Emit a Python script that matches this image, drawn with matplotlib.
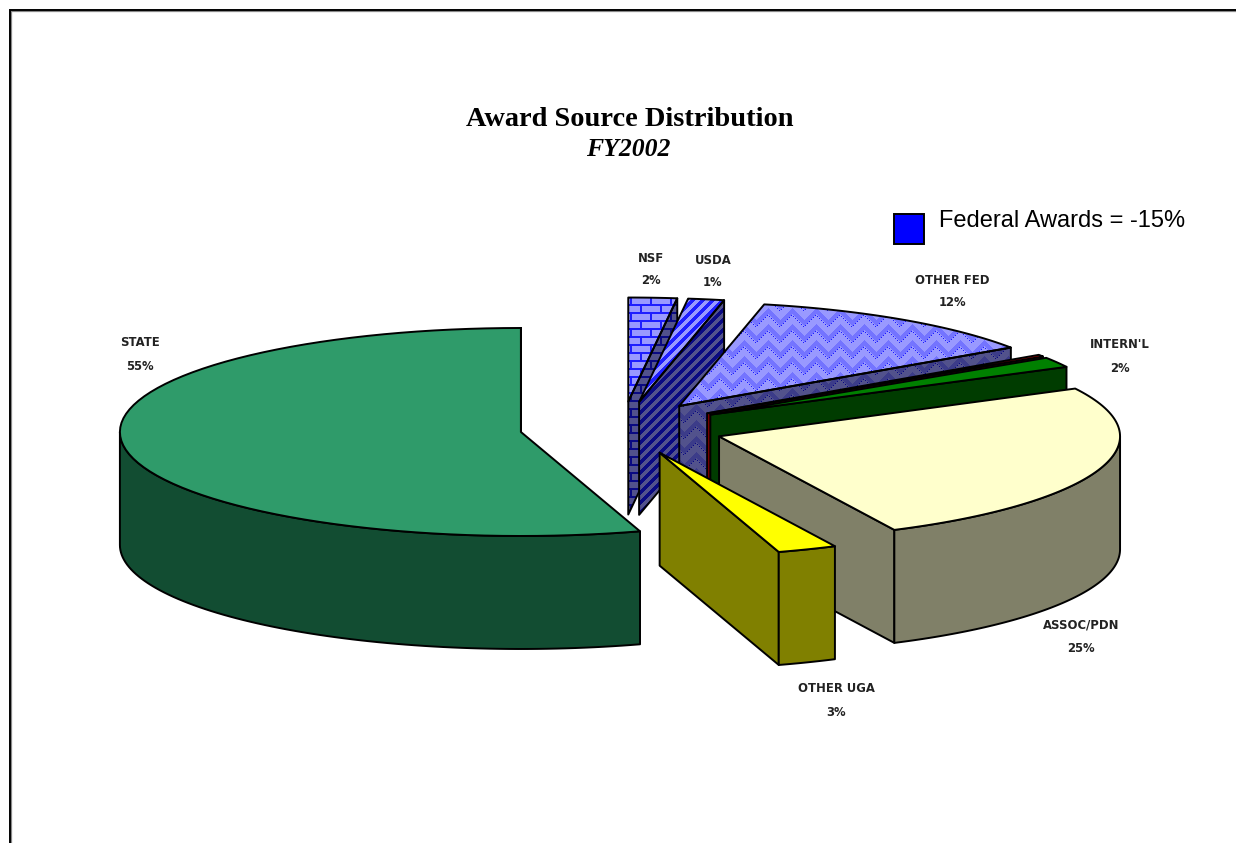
import numpy as np
import matplotlib
matplotlib.use("Agg")
import matplotlib.pyplot as plt
from matplotlib.patches import Polygon, Rectangle

# slices, counterclockwise from 12 o'clock
categories = ["STATE", "OTHER UGA", "ASSOC/PDN", "INTERN'L", "OTHER", "OTHER FED", "USDA", "NSF"]
shares = [54.8, 2.4, 25.4, 1.6, 0.3, 12.1, 1.45, 1.95]
pct_labels = ["55%", "3%", "25%", "2%", "", "12%", "1%", "2%"]

# pie geometry, in pixels
CX, CY = 622, 428
RX, RY = 401, 104
DEPTH = 113
EXPLODE = 0.255
START = 90

top_colors = ["#2F9B6A", "#FFFF00", "#FFFFCC", "#008000", "#E00000", None, None, None]
side_colors = ["#124D32", "#808000", "#808068", "#003C00", "#800000", None, None, None]
patterns = {"NSF": "brick", "USDA": "stripes", "OTHER FED": "weave"}
light = ((153, 153, 255), (30, 30, 255))
dark = ((82, 82, 140), (10, 10, 130))

label_pos = {"STATE": (140, 343), "OTHER UGA": (836, 689), "ASSOC/PDN": (1081, 625),
             "INTERN'L": (1120, 345), "OTHER FED": (952, 280), "USDA": (713, 260), "NSF": (651, 258)}

# back to front
draw_order = ["NSF", "USDA", "OTHER FED", "OTHER", "INTERN'L", "STATE", "ASSOC/PDN", "OTHER UGA"]

LW = 1.4


def tile(kind, xx, yy, cols):
    bg, fg = np.array(cols[0], float), np.array(cols[1], float)
    if kind == "brick":
        row = (yy // 8) % 2
        mask = (yy % 8 < 2) | ((xx + row * 10) % 20 < 2)
        img = np.where(mask[..., None], fg, bg)
    elif kind == "stripes":
        mask = (xx + yy) % 10 < 5
        img = np.where(mask[..., None], fg, bg)
    else:
        # zigzag bands, softer than the other two
        p = np.abs((xx % 24) - 12)
        band = (yy + p) % 16
        mid = 0.7 * bg + 0.3 * fg
        img = np.where((band < 6)[..., None], mid, bg)
        dots = (band >= 6) & (band < 8) & ((xx // 2 + yy // 2) % 2 == 0)
        img = np.where(dots[..., None], fg, img)
    return img.astype(np.uint8)


def fill(ax, pts, color=None, kind=None, cols=None, z=1):
    pts = np.asarray(pts)
    if kind is None:
        ax.add_patch(Polygon(pts, closed=True, fc=color, ec="black", lw=LW, zorder=z, joinstyle="round"))
        return
    x0, y0 = np.floor(pts.min(axis=0)).astype(int)
    x1, y1 = np.ceil(pts.max(axis=0)).astype(int)
    xx, yy = np.meshgrid(np.arange(x0, x1), np.arange(y0, y1))
    im = ax.imshow(tile(kind, xx, yy, cols), extent=(x0, x1, y1, y0),
                   interpolation="nearest", zorder=z, aspect="auto")
    clip = Polygon(pts, closed=True, fc="none", ec="black", lw=LW, zorder=z + 0.01, joinstyle="round")
    ax.add_patch(clip)
    im.set_clip_path(clip)


fig = plt.figure(figsize=(12.36, 8.43), dpi=100)
ax = fig.add_axes([0, 0, 1, 1])
ax.set_xlim(0, 1236)
ax.set_ylim(843, 0)
ax.axis("off")

# page frame, top and left only
ax.plot([11.2, 11.2, 1236], [843, 11.2, 11.2], color="#888888", lw=0.9, zorder=0)
ax.plot([9.7, 9.7, 1236], [843, 9.7, 9.7], color="black", lw=1.4, solid_joinstyle="miter", zorder=0)

ends = START + np.cumsum(shares) * 3.6
starts = np.r_[START, ends[:-1]]

z = 1
for name in draw_order:
    i = categories.index(name)
    t1, t2 = starts[i], ends[i]
    mid = np.radians((t1 + t2) / 2)
    ax0 = CX + EXPLODE * RX * np.cos(mid)
    ay0 = CY - EXPLODE * RY * np.sin(mid)
    tt = np.radians(np.linspace(t1, t2, 80))
    rim = np.c_[ax0 + RX * np.cos(tt), ay0 - RY * np.sin(tt)]
    apex = np.array([ax0, ay0])
    down = np.array([0, DEPTH])
    kind = patterns.get(name)

    def face(pts, which):
        if kind:
            fill(ax, pts, kind=kind, cols=dark if which == "side" else light, z=z)
        else:
            fill(ax, pts, color=side_colors[i] if which == "side" else top_colors[i], z=z)

    # cut faces, only the ones turned towards the viewer
    if np.cos(np.radians(t1)) > 0:
        face([apex, rim[0], rim[0] + down, apex + down], "side")
    if np.cos(np.radians(t2)) < 0:
        face([apex, rim[-1], rim[-1] + down, apex + down], "side")

    # outer wall, lower half of the ellipse
    a = max(t1, 180)
    b = min(t2, 360)
    if b > a:
        wt = np.radians(np.linspace(a, b, 80))
        wall = np.c_[ax0 + RX * np.cos(wt), ay0 - RY * np.sin(wt)]
        face(np.r_[wall, wall[::-1] + down], "side")

    face(np.r_[[apex], rim], "top")
    z += 1

for name, (lx, ly) in label_pos.items():
    i = categories.index(name)
    ax.text(lx, ly, name, ha="center", va="center", fontsize=8.4, fontweight="bold",
            color="#222222", family="DejaVu Sans", zorder=20)
    ax.text(lx, ly + 23, pct_labels[i], ha="center", va="center", fontsize=8.4, fontweight="bold",
            color="#222222", family="DejaVu Sans", zorder=20)

ax.text(630, 119, "Award Source Distribution", ha="center", va="center", fontsize=20.4,
        fontweight="bold", family="Liberation Serif", zorder=20)
ax.text(628, 150, "FY2002", ha="center", va="center", fontsize=18.5, fontweight="bold",
        fontstyle="italic", family="Liberation Serif", zorder=20)

# note box
ax.add_patch(Rectangle((894, 214), 30, 30, fc="#0000FF", ec="black", lw=1.4, zorder=20))
ax.text(939, 221, "Federal Awards = -15%", ha="left", va="center", fontsize=17,
        family="Liberation Sans", zorder=20)

fig.savefig("out.png", dpi=100)
